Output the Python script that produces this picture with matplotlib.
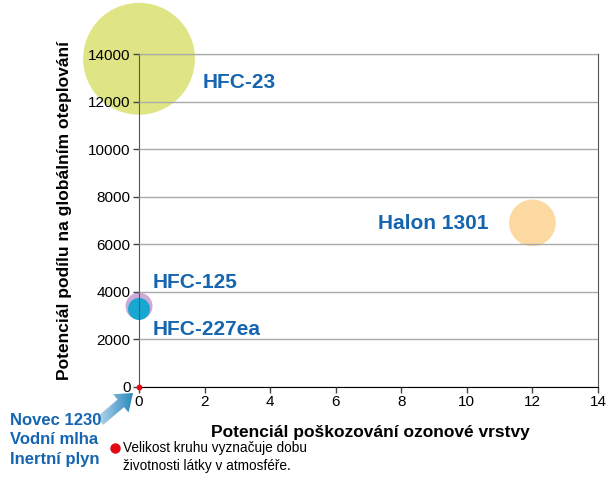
"""Bubble chart: ODP vs GWP of fire-suppression agents (bubble = atmospheric lifetime)."""
import matplotlib
matplotlib.use("Agg")
import matplotlib.pyplot as plt
import numpy as np
from matplotlib.patches import FancyArrow

plt.rcParams["font.family"] = ["Liberation Sans", "DejaVu Sans"]

# data
agents = ["HFC-23", "Halon 1301", "HFC-125", "HFC-227ea"]
odp = [0.0, 12.0, 0.0, 0.0]
gwp = [13800, 6900, 3400, 3280]
lifetime_rel = [270, 47, 15.7, 10.4]   # relative bubble area
colors = ["#dfe584", "#fbd9a0", "#cdaad8", "#17a8d2"]
label_pos = [(1.95, 12800), (7.3, 6890), (0.43, 4400), (0.43, 2400)]
xticks = [0, 2, 4, 6, 8, 10, 12, 14]
yticks = [0, 2000, 4000, 6000, 8000, 10000, 12000, 14000]

BLUE = "#1565b0"

fig = plt.figure(figsize=(6.13, 4.95), dpi=100)
ax = fig.add_axes([0.2268, 0.2182, 0.7487, 0.6727])

sizes = np.array(lifetime_rel) * 24.0
ax.scatter(odp, gwp, s=sizes, c=colors, edgecolors="none", zorder=1, clip_on=False)
ax.scatter([0], [0], s=10, c="#e30613", zorder=5, clip_on=False)

for name, (lx, ly) in zip(agents, label_pos):
    ax.text(lx, ly, name, color=BLUE, fontsize=15, fontweight="bold",
            va="center", ha="left", zorder=6)

ax.set_xlim(0, 14)
ax.set_ylim(0, 14000)
ax.set_xticks(xticks)
ax.set_yticks(yticks)
ax.tick_params(labelsize=11, length=4, width=1, color="#444444", pad=2)
ax.yaxis.grid(True, color="#aaaaaa", lw=1)
ax.set_axisbelow(False)
for side in ("top", "left", "right"):
    ax.spines[side].set_color("#555555")
ax.spines["bottom"].set_color("black")

ax.set_xlabel("Potenciál poškozování ozonové vrstvy", fontsize=12.5,
              fontweight="bold")
ax.set_ylabel("Potenciál podílu na globálním oteplování", fontsize=12.5,
              fontweight="bold")
ax.xaxis.set_label_coords(0.505, -0.114)
ax.yaxis.set_label_coords(-0.146, 0.53)

# overlay in pixel coordinates for the annotations
ov = fig.add_axes([0, 0, 1, 1], facecolor="none")
ov.set_xlim(0, 613)
ov.set_ylim(495, 0)
ov.axis("off")

arrow = FancyArrow(100, 421, 33, -28, width=10, head_width=24, head_length=16,
                   length_includes_head=True, facecolor="none", edgecolor="none")
ov.add_patch(arrow)
grad = np.linspace(0, 1, 256).reshape(1, -1)
cmap = matplotlib.colors.LinearSegmentedColormap.from_list("arr", ["#b6d6ec", "#0f78b4"])
im = ov.imshow(grad, cmap=cmap, extent=(98, 140, 425, 385), aspect="auto", zorder=3)
im.set_clip_path(arrow)

ov.text(10, 440, "Novec 1230\nVodní mlha\nInertní plyn", color=BLUE, fontsize=12,
        fontweight="bold", va="center", ha="left", linespacing=1.35)
ov.scatter([115], [448], s=42, c="#e30613", zorder=4)
ov.text(123, 457, "Velikost kruhu vyznačuje dobu\nživotnosti látky v atmosféře.",
        fontsize=9.8, va="center", ha="left", linespacing=1.3)

fig.savefig("out.png", dpi=100)
